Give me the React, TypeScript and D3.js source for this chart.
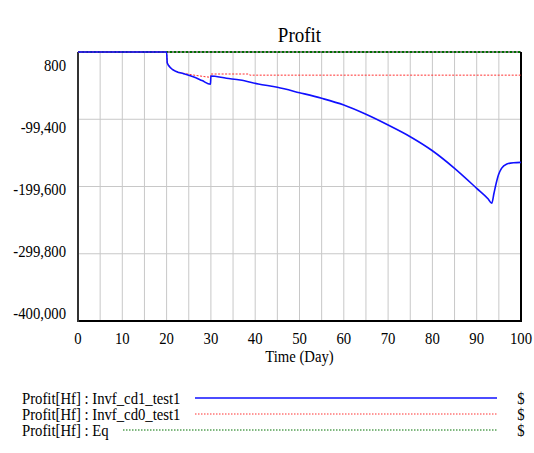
import React from "react";
import * as d3 from "d3";

const W = 534;
const H = 453;

const title = "Profit";
const xLabel = "Time (Day)";
const xTicks = [0, 10, 20, 30, 40, 50, 60, 70, 80, 90, 100];
const xGrid = [5, 10, 15, 20, 25, 30, 35, 40, 45, 50, 55, 60, 65, 70, 75, 80, 85, 90, 95];
const yTicks = [800, -99400, -199600, -299800, -400000];
const yTickLabels = ["800", "-99,400", "-199,600", "-299,800", "-400,000"];

const blueT = [0, 20, 20.15, 21, 22.3, 23.8, 26, 28, 29.9, 30, 33.5, 36.6, 40.7, 45, 50, 55, 60, 65, 70, 75, 80, 85, 90, 92.6, 93.4, 93.9, 94.4, 94.9, 95.6, 96.8, 98.3, 100];
const blueV = [800, 800, -15600, -23500, -28550, -31500, -36000, -41700, -47300, -35000, -38400, -40900, -46900, -51800, -59800, -68200, -78200, -92000, -108000, -125400, -146300, -172500, -202300, -218200, -224600, -209700, -194800, -182500, -172500, -166100, -164100, -163600];

const redT = [0, 20, 20.15, 21, 22.3, 23.8, 26, 28.7, 29.9, 30, 38.5, 38.8, 100];
const redV = [800, 800, -15600, -23500, -28550, -30900, -33500, -36000, -36900, -32000, -32000, -33700, -33700];

const greenT = [0, 100];
const greenV = [800, 800];

const legendNames = ["Profit[Hf] : Invf_cd1_test1", "Profit[Hf] : Invf_cd0_test1", "Profit[Hf] : Eq"];
const legendUnits = ["$", "$", "$"];

const FONT = "'Liberation Serif', 'Times New Roman', serif";

function T(props: { x: number; y: number; size: number; sx: number; anchor?: string; children: any }) {
  const { x, y, size, sx, anchor, children } = props;
  return (
    <text
      transform={`translate(${x},${y}) scale(${sx},1)`}
      dy="0.35em"
      textAnchor={anchor || "start"}
      fontSize={size}
      fill="#000"
    >
      {children}
    </text>
  );
}

export default function App() {
  const left = 78, right = 521, top = 52, bottom = 321;
  const x = d3.scaleLinear().domain([0, 100]).range([left, right]);
  const y = d3.scaleLinear().domain([800, -400000]).range([top, bottom]);
  const yLab = d3.scaleLinear().domain([800, -400000]).range([top + 13, bottom - 8]);

  const mk = (ts: number[], vs: number[], curve: any) =>
    d3.line<number>().x((_, i) => x(ts[i])).y((_, i) => y(vs[i])).curve(curve)(ts) || "";

  const legendY = [398, 414, 430];
  const legendLineStart = [195, 195, 123];
  const legendLineEnd = 497;
  const styles = [
    { stroke: "#1010ff", width: 1.4, dash: "" },
    { stroke: "#ff3030", width: 1, dash: "1.5,1.5" },
    { stroke: "#007000", width: 1, dash: "1.5,1.5" },
  ];
  const SZ = 16;
  const SX = 0.92;

  return (
    <svg width={W} height={H} style={{ position: "absolute", left: 0, top: 0, background: "#fff" }} fontFamily={FONT}>
      <rect x={0} y={0} width={W} height={H} fill="#fff" />
      <T x={(left + right) / 2} y={35} size={20} sx={0.95} anchor="middle">{title}</T>
      {xGrid.map((t) => (
        <line key={"vx" + t} x1={x(t)} x2={x(t)} y1={top} y2={bottom} stroke="#c8c8c8" strokeWidth={1} />
      ))}
      {yTicks.slice(1, 4).map((v) => (
        <line key={"hy" + v} x1={left} x2={right} y1={y(v)} y2={y(v)} stroke="#c8c8c8" strokeWidth={1} />
      ))}
      <line x1={left} x2={right} y1={top} y2={top} stroke="#000" strokeWidth={1} />
      <line x1={right} x2={right} y1={top} y2={bottom} stroke="#000" strokeWidth={2} />
      <line x1={left} x2={right + 1} y1={bottom} y2={bottom} stroke="#000" strokeWidth={2} />
      <line x1={left} x2={left} y1={top} y2={bottom + 1} stroke="#333" strokeWidth={2} />

      <path d={mk(greenT, greenV, d3.curveLinear)} fill="none" stroke="#007000" strokeWidth={2} strokeDasharray="2,2" />
      <path d={mk(redT, redV, d3.curveLinear)} fill="none" stroke="#ff3030" strokeWidth={1} strokeDasharray="2,1.5" />
      <path d={mk(blueT, blueV, d3.curveMonotoneX)} fill="none" stroke="#1010ff" strokeWidth={1.6} strokeLinejoin="round" />

      {yTicks.map((v, i) => (
        <T key={"yl" + v} x={66} y={yLab(v)} size={SZ} sx={SX} anchor="end">{yTickLabels[i]}</T>
      ))}
      {xTicks.map((t) => (
        <T key={"xl" + t} x={x(t)} y={338} size={SZ} sx={SX} anchor="middle">{t}</T>
      ))}
      <T x={(left + right) / 2} y={356} size={SZ} sx={SX} anchor="middle">{xLabel}</T>

      {legendNames.map((n, i) => (
        <g key={n}>
          <T x={22} y={legendY[i]} size={SZ} sx={SX}>{n}</T>
          <line x1={legendLineStart[i]} x2={legendLineEnd} y1={legendY[i]} y2={legendY[i]} stroke={styles[i].stroke} strokeWidth={styles[i].width} strokeDasharray={styles[i].dash} />
          <T x={521} y={legendY[i]} size={SZ} sx={SX} anchor="middle">{legendUnits[i]}</T>
        </g>
      ))}
    </svg>
  );
}
